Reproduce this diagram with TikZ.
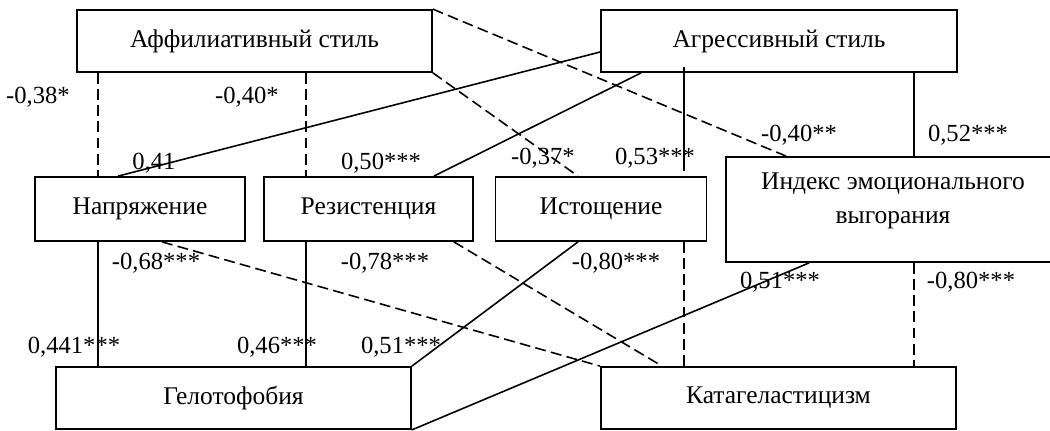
\documentclass[tikz,border=0pt]{standalone}
\usepackage{fontspec}
\setmainfont{Liberation Serif}
\usepackage{tikz}
\usetikzlibrary{positioning,calc}

\begin{document}
\begin{tikzpicture}[x=0.2mm, y=-0.2mm,
    blok/.style={draw, line width=1pt, rectangle, inner sep=0pt, font=\fontsize{14.5}{19}\selectfont},
    koef/.style={inner sep=0pt, font=\fontsize{14}{17}\selectfont},
    svyaz/.style={line width=0.9pt},
    otr/.style={line width=0.9pt, dash pattern=on 6.2pt off 3pt}]
    \useasboundingbox (0,0) rectangle (1050,430);

    % styles of humour
    \node[blok, minimum width=355*0.2mm, minimum height=62*0.2mm] (affil) at (254.5,41) {Аффилиативный стиль};
    \node[blok, minimum width=356*0.2mm, minimum height=62*0.2mm] (aggr) at (779,41) {Агрессивный стиль};

    % burnout
    \node[blok, minimum width=210*0.2mm, minimum height=64*0.2mm] (napr) at (140,209) {Напряжение};
    \node[blok, minimum width=209*0.2mm, minimum height=64*0.2mm] (rezist) at (368.5,209) {Резистенция};
    \node[blok, minimum width=211*0.2mm, minimum height=64*0.2mm] (istosh) at (601,209) {Истощение};
    \node[blok, minimum width=334*0.2mm, minimum height=105*0.2mm, align=center, text depth=13pt] (index) at (893,209.5) {Индекс эмоционального\\выгорания};

    % gelotophobia
    \node[blok, minimum width=355*0.2mm, minimum height=62*0.2mm] (gelot) at (233.5,398) {Гелотофобия};
    \node[blok, minimum width=355*0.2mm, minimum height=62*0.2mm] (katag) at (778.5,398) {Катагеластицизм};

    \coordinate (k1) at (98,0);
    \coordinate (k2) at (306,0);
    \coordinate (k3) at (684,0);
    \coordinate (k4) at (914,0);

    \draw[otr] (affil.south -| k1) -- (napr.north -| k1);
    \draw[otr] (affil.south -| k2) -- (rezist.north -| k2);
    \draw[otr] (affil.north east) -- ($(index.north west)+(61,0)$);
    \draw[otr] (affil.south east) -- ($(istosh.north)+(-23,0)$);
    \draw[svyaz] ($(aggr.west)+(0,11)$) -- ($(napr.north)+(-22,0)$);
    \draw[svyaz] ($(aggr.south west)+(41,0)$) -- ($(rezist.north east)+(-40,0)$);
    \draw[svyaz] ($(aggr.south -| k3)+(0,-6)$) -- ($(istosh.north -| k3)+(0,-5)$);
    \draw[svyaz] (aggr.south -| k4) -- (index.north -| k4);

    \draw[svyaz] (napr.south -| k1) -- (gelot.north -| k1);
    \draw[svyaz] (rezist.south -| k2) -- (gelot.north -| k2);
    \draw[otr] ($(napr.south)+(22,0)$) -- (katag.north west);
    \draw[otr] ($(rezist.south east)+(-20,0)$) -- ($(katag.north west)+(62,0)$);
    \draw[svyaz] ($(istosh.south)+(-23,0)$) -- (gelot.north east);
    \draw[otr] (istosh.south -| k3) -- (katag.north -| k3);
    \draw[svyaz] ($(index.south west)+(84,0)$) -- (gelot.south east);
    \draw[otr] (index.south -| k4) -- (katag.north -| k4);

    % coefficients
    \node[koef] (c1) at (38,97) {-0,38*};
    \node[koef] (c2) at (247,97) {-0,40*};
    \node[koef] (c3) at (154,163) {0,41};
    \node[koef] (c4) at (381,163) {0,50***};
    \node[koef] (c5) at (543,158) {-0,37*};
    \node[koef] (c6) at (655,158) {0,53***};
    \node[koef] (c7) at (799,135) {-0,40**};
    \node[koef] (c8) at (968,135) {0,52***};
    \node[koef] (c9) at (156,263) {-0,68***};
    \node[koef] (c10) at (385,263) {-0,78***};
    \node[koef] (c11) at (616,263) {-0,80***};
    \node[koef] (c12) at (780,282) {0,51***};
    \node[koef] (c13) at (971,282) {-0,80***};
    \node[koef] (c14) at (74,347) {0,441***};
    \node[koef] (c15) at (277,347) {0,46***};
    \node[koef] (c16) at (401,347) {0,51***};
\end{tikzpicture}
\end{document}
